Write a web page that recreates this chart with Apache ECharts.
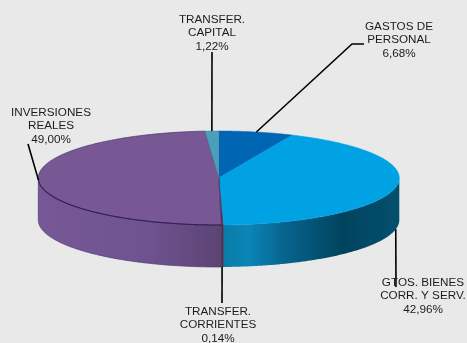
<!DOCTYPE html>
<html><head><meta charset="utf-8">
<style>html,body{margin:0;padding:0;background:#e9e9e9}#c{width:467px;height:343px;filter:blur(0.35px)}</style>
<script src="https://cdn.jsdelivr.net/npm/echarts@6/dist/echarts.min.js"></script>
</head><body><div id="c"></div>
<script>
const categories = ['GASTOS DE\nPERSONAL', 'GTOS. BIENES\nCORR. Y SERV.', 'TRANSFER.\nCORRIENTES', 'INVERSIONES\nREALES', 'TRANSFER.\nCAPITAL'];
const values = [6.68, 42.96, 0.14, 49.00, 1.22];
const valueLabels = ['6,68%', '42,96%', '0,14%', '49,00%', '1,22%'];

// styling and layout, separate from the data
const topColors = ['#0066b3', '#00a2e3', '#5e1c38', '#775895', '#4aa0ba'];
const wallStops = [
  null,
  [[0, '#0a7ba6'], [0.14, '#0a86b8'], [0.35, '#07648e'], [0.68, '#01435e'], [1, '#03506e']],
  [[0, '#5e1c38'], [1, '#5e1c38']],
  [[0, '#765896'], [0.6, '#6f5290'], [1, '#5c4474']],
  null
];
const edgeColors = ['#0066b3', '#00a2e3', '#5e1c38', '#4f3a6e', '#3f7f98'];
const frontEdgeColors = [null, null, '#5e1c38', '#34215a', null];
const labelAt = [[399, 40], [423, 296], [218, 325], [51, 126], [212, 33]];
const leaderRoute = [[[352, 44], [364, 44]], [[396, 287]], [[222, 303]], [[28, 144]], [[212, 52]]];
const leaderOnBase = [false, true, true, false, false];
const CX = 218.8, CY = 178, RX = 180.5, RY = 47, DEPTH = 42;

const total = values.reduce((a, b) => a + b, 0);
const starts = [];
values.reduce((sum, v, i) => { starts[i] = sum; return sum + v; }, 0);
const toDeg = v => v / total * 360;
const pt = (deg, dy) => {
  const r = deg * Math.PI / 180;
  return [CX + RX * Math.sin(r), CY - RY * Math.cos(r) + (dy || 0)];
};
const arc = (a, b, dy) => {
  const n = Math.max(2, Math.ceil(Math.abs(b - a) * 2)), out = [];
  for (let i = 0; i <= n; i++) out.push(pt(a + (b - a) * i / n, dy));
  return out;
};

function renderItem(params, api) {
  const i = params.dataIndex;
  const a = toDeg(starts[i]), b = a + toDeg(api.value(0)), mid = (a + b) / 2;
  const kids = [];
  // front wall
  const fa = Math.max(a, 90), fb = Math.min(b, 270);
  if (fb > fa && wallStops[i]) {
    const p0 = pt(fa), p1 = pt(fb);
    const x0 = Math.min(p0[0], p1[0]), x1 = Math.max(p0[0], p1[0]);
    const pts = arc(fa, fb, 0).concat(arc(fb, fa, DEPTH));
    kids.push({
      type: 'polygon', z2: 1, shape: { points: pts },
      style: {
        fill: { type: 'linear', global: true, x: x0, y: 0, x2: x1, y2: 0,
          colorStops: wallStops[i].map(s => ({ offset: s[0], color: s[1] })) },
        stroke: i === 3 || i === 2 ? edgeColors[i] : null, lineWidth: 0.7
      }
    });
  }
  // top face
  kids.push({
    type: 'polygon', z2: 2,
    shape: { points: [[CX, CY]].concat(arc(a, b, 0)) },
    style: { fill: topColors[i], stroke: edgeColors[i], lineWidth: i === 3 ? 0.8 : 0.5, lineJoin: 'round' }
  });
  // darker rim where the top face meets the front wall
  if (fb > fa && frontEdgeColors[i]) {
    kids.push({
      type: 'polyline', z2: 3, shape: { points: arc(fa, fb, 0) },
      style: { fill: null, stroke: frontEdgeColors[i], lineWidth: 1.1 }
    });
  }
  // leader line
  const start = pt(mid, leaderOnBase[i] ? DEPTH : 0);
  kids.push({
    type: 'polyline', z2: 4,
    shape: { points: [start].concat(leaderRoute[i]) },
    style: { fill: null, stroke: '#000000', lineWidth: 1.6 }
  });
  // label
  kids.push({
    type: 'text', z2: 5,
    style: {
      x: labelAt[i][0], y: labelAt[i][1],
      text: categories[i] + '\n' + valueLabels[i],
      align: 'center', verticalAlign: 'middle',
      font: '11.7px "Liberation Sans", Arial, sans-serif',
      lineHeight: 13.5, fill: '#1c1c1c'
    }
  });
  return { type: 'group', children: kids };
}

const chart = echarts.init(document.getElementById('c'), null, { renderer: 'canvas' });
chart.setOption({
  animation: false,
  backgroundColor: '#e9e9e9',
  series: [{
    type: 'custom',
    coordinateSystem: 'none',
    renderItem,
    data: values.map(v => [v]),
    silent: true
  }]
});
</script></body></html>
